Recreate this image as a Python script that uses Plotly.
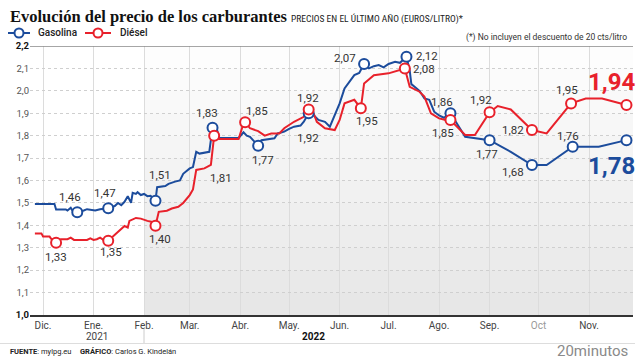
import plotly.graph_objects as go

# ---------------- data ----------------
gas_dates = ["2021-11-26", "2021-12-08", "2021-12-09", "2021-12-15", "2021-12-16", "2021-12-18",
             "2021-12-19", "2021-12-22", "2021-12-26", "2021-12-28", "2022-01-02", "2022-01-05",
             "2022-01-10", "2022-01-14", "2022-01-16", "2022-01-18", "2022-01-20", "2022-01-22",
             "2022-01-24", "2022-01-25", "2022-01-27", "2022-01-28", "2022-01-30", "2022-02-01",
             "2022-02-03", "2022-02-05", "2022-02-08", "2022-02-09", "2022-02-14", "2022-02-16",
             "2022-02-20", "2022-02-23", "2022-02-25", "2022-03-01", "2022-03-03", "2022-03-05",
             "2022-03-07", "2022-03-10", "2022-03-13", "2022-03-15", "2022-03-18", "2022-03-19",
             "2022-03-31", "2022-04-03", "2022-04-05", "2022-04-07", "2022-04-09", "2022-04-12",
             "2022-04-14", "2022-04-22", "2022-04-24", "2022-04-28", "2022-05-01", "2022-05-04",
             "2022-05-08", "2022-05-10", "2022-05-13", "2022-05-16", "2022-05-19", "2022-05-23",
             "2022-05-26", "2022-05-29", "2022-06-01", "2022-06-04", "2022-06-07", "2022-06-10",
             "2022-06-13", "2022-06-16", "2022-06-19", "2022-06-22", "2022-06-25", "2022-06-28",
             "2022-07-01", "2022-07-05", "2022-07-08", "2022-07-12", "2022-07-14", "2022-07-15",
             "2022-07-20", "2022-07-23", "2022-07-26", "2022-07-29", "2022-08-01", "2022-08-04",
             "2022-08-08", "2022-08-17", "2022-09-01", "2022-09-14", "2022-09-27", "2022-10-06",
             "2022-10-22", "2022-11-07", "2022-11-24"]
gas_vals = [1.495, 1.495, 1.471, 1.471, 1.466, 1.478,
            1.466, 1.458, 1.466, 1.472, 1.466, 1.472,
            1.476, 1.486, 1.500, 1.490, 1.505, 1.530,
            1.500, 1.545, 1.540, 1.548, 1.535, 1.540,
            1.530, 1.532, 1.510, 1.570, 1.575, 1.585,
            1.595, 1.600, 1.630, 1.654, 1.660, 1.728,
            1.720, 1.725, 1.728, 1.835, 1.820, 1.790,
            1.790, 1.815, 1.800, 1.795, 1.780, 1.755,
            1.780, 1.788, 1.810, 1.818, 1.830, 1.840,
            1.845, 1.862, 1.900, 1.892, 1.870, 1.862,
            1.840, 1.892, 1.944, 2.011, 2.040, 2.070,
            2.080, 2.120, 2.100, 2.110, 2.115, 2.105,
            2.120, 2.130, 2.125, 2.152, 2.090, 2.030,
            2.000, 1.966, 1.960, 1.907, 1.890, 1.880,
            1.900, 1.795, 1.780, 1.728, 1.669, 1.669,
            1.751, 1.751, 1.780]

die_dates = ["2021-11-26", "2021-11-30", "2021-12-01", "2021-12-05", "2021-12-06", "2021-12-09",
             "2021-12-12", "2021-12-16", "2021-12-18", "2021-12-20", "2021-12-28", "2021-12-30",
             "2022-01-01", "2022-01-03", "2022-01-05", "2022-01-07", "2022-01-10", "2022-01-14",
             "2022-01-17", "2022-01-20", "2022-01-22", "2022-01-23", "2022-01-27", "2022-01-30",
             "2022-02-03", "2022-02-06", "2022-02-08", "2022-02-10", "2022-02-15", "2022-02-18",
             "2022-02-22", "2022-02-25", "2022-03-01", "2022-03-03", "2022-03-05", "2022-03-10",
             "2022-03-14", "2022-03-16", "2022-03-19", "2022-03-31", "2022-04-03", "2022-04-04",
             "2022-04-07", "2022-04-12", "2022-04-16", "2022-04-20", "2022-04-25", "2022-04-28",
             "2022-05-04", "2022-05-10", "2022-05-13", "2022-05-16", "2022-05-18", "2022-05-23",
             "2022-05-29", "2022-06-01", "2022-06-04", "2022-06-10", "2022-06-14", "2022-06-16",
             "2022-06-22", "2022-07-01", "2022-07-11", "2022-07-14", "2022-07-20", "2022-07-23",
             "2022-07-27", "2022-08-01", "2022-08-05", "2022-08-08", "2022-08-17", "2022-08-23",
             "2022-09-01", "2022-09-06", "2022-09-14", "2022-09-27", "2022-10-06", "2022-10-21",
             "2022-10-30", "2022-11-09", "2022-11-24"]
die_vals = [1.364, 1.364, 1.350, 1.350, 1.340, 1.322,
            1.338, 1.338, 1.345, 1.335, 1.335, 1.342,
            1.335, 1.338, 1.345, 1.335, 1.331, 1.357,
            1.380, 1.397, 1.390, 1.420, 1.433, 1.430,
            1.420, 1.415, 1.398, 1.460, 1.465, 1.475,
            1.483, 1.500, 1.535, 1.560, 1.647, 1.654,
            1.670, 1.800, 1.785, 1.785, 1.855, 1.860,
            1.833, 1.820, 1.800, 1.810, 1.810, 1.833,
            1.862, 1.884, 1.917, 1.900, 1.862, 1.833,
            1.825, 1.870, 1.944, 1.960, 1.922, 2.033,
            2.070, 2.078, 2.100, 2.018, 1.996, 1.974,
            1.900, 1.877, 1.870, 1.870, 1.803, 1.803,
            1.904, 1.932, 1.917, 1.825, 1.810, 1.944,
            1.966, 1.966, 1.937]

gas_mark_dates = ["2021-12-22", "2022-01-10", "2022-02-08", "2022-03-15", "2022-04-12", "2022-05-13",
                  "2022-06-16", "2022-07-12", "2022-08-08", "2022-09-01", "2022-09-27", "2022-10-22",
                  "2022-11-24"]
gas_mark_vals = [1.458, 1.476, 1.510, 1.835, 1.755, 1.900, 2.120, 2.152, 1.900, 1.780, 1.669, 1.751, 1.780]
gas_mark_labels = ["1,46", "1,47", "1,51", "1,83", "1,77", "1,92", "2,07", "2,12", "1,86", "1,77",
                   "1,68", "1,76", "1,78"]

die_mark_dates = ["2021-12-09", "2022-01-10", "2022-02-08", "2022-03-16", "2022-04-04", "2022-05-13",
                  "2022-06-14", "2022-07-11", "2022-08-08", "2022-09-01", "2022-09-27", "2022-10-21",
                  "2022-11-24"]
die_mark_vals = [1.322, 1.331, 1.398, 1.800, 1.860, 1.917, 1.922, 2.100, 1.870, 1.904, 1.825, 1.944, 1.937]
die_mark_labels = ["1,33", "1,35", "1,40", "1,81", "1,85", "1,92", "1,95", "2,08", "1,85", "1,92",
                   "1,82", "1,95", "1,94"]

series_names = ["Gasolina", "Diésel"]
month_ticks = ["2021-12-01", "2022-01-01", "2022-02-01", "2022-03-01", "2022-04-01", "2022-05-01",
               "2022-06-01", "2022-07-01", "2022-08-01", "2022-09-01", "2022-10-01", "2022-11-01"]
month_labels = ["Dic.", "Ene.", "Feb.", "Mar.", "Abr.", "May.", "Jun.", "Jul.", "Ago.", "Sep.", "Oct", "Nov."]
y_ticks = [1.0, 1.1, 1.2, 1.3, 1.4, 1.5, 1.6, 1.7, 1.8, 1.9, 2.0, 2.1, 2.2]

# ---------------- styles ----------------
BLUE = "#1c4c9c"
RED = "#e8212b"
FONT = "Roboto, Arial, sans-serif"

# label offsets in pixels (dx, dy down-positive, anchor)
gas_offsets = [(-7, -15, "c"), (-3, -15, "c"), (5, -26, "c"), (-6, -15, "c"), (5, 14, "c"), (-1, 25, "c"),
               (-19, -6, "c"), (8, -1, "l"), (-8, -11, "c"), (-3, 14, "c"), (-19, 7, "c"), (-5, -11, "c"),
               (-15, 26, "big")]
die_offsets = [(0, 14, "c"), (3, 11, "c"), (5, 13, "c"), (7, 42, "c"), (12, -11, "c"), (-1, -11, "c"),
               (6, 13, "c"), (6, 1, "l"), (-7, 13, "c"), (-9, -12, "c"), (-19, 0, "c"), (-4, -13, "c"),
               (-15, -23, "big")]

W, H = 640, 360
L, R, T, B = 30, 633, 46, 315


def px(x):
    return (x - L) / (R - L)


def py(y):
    return (B - y) / (B - T)


fig = go.Figure()

# lines
fig.add_trace(go.Scatter(x=gas_dates, y=gas_vals, mode="lines", line=dict(color=BLUE, width=2),
                         name=series_names[0], showlegend=False, hoverinfo="skip"))
fig.add_trace(go.Scatter(x=die_dates, y=die_vals, mode="lines", line=dict(color=RED, width=2),
                         name=series_names[1], showlegend=False, hoverinfo="skip"))
# markers
fig.add_trace(go.Scatter(x=gas_mark_dates, y=gas_mark_vals, mode="markers",
                         marker=dict(symbol="circle", size=10, color="white", line=dict(color=BLUE, width=2)),
                         showlegend=False))
fig.add_trace(go.Scatter(x=die_mark_dates, y=die_mark_vals, mode="markers",
                         marker=dict(symbol="circle", size=10, color="white", line=dict(color=RED, width=2)),
                         showlegend=False))

annotations = []
for dates, vals, labels, offs, col in [(gas_mark_dates, gas_mark_vals, gas_mark_labels, gas_offsets, BLUE),
                                       (die_mark_dates, die_mark_vals, die_mark_labels, die_offsets, RED)]:
    for d, v, t, (dx, dy, kind) in zip(dates, vals, labels, offs):
        if kind == "big":
            annotations.append(dict(x=d, y=v, text=f"<b>{t}</b>", showarrow=False, xshift=dx, yshift=-dy,
                                    font=dict(family=FONT, size=24, color=col)))
        else:
            annotations.append(dict(x=d, y=v, text=t, showarrow=False, xshift=dx, yshift=-dy,
                                    xanchor="left" if kind == "l" else "center",
                                    font=dict(family=FONT, size=11.5, color="#333")))

# titles and texts
annotations += [
    dict(xref="paper", yref="paper", x=px(8), y=py(16), xanchor="left", yanchor="middle", showarrow=False,
         text="<b>Evolución del precio de los carburantes</b>",
         font=dict(family="Liberation Serif, serif", size=16.5, color="#111")),
    dict(xref="paper", yref="paper", x=px(289), y=py(19), xanchor="left", yanchor="middle", showarrow=False,
         text="PRECIOS EN EL ÚLTIMO AÑO (EUROS/LITRO)*",
         font=dict(family="Liberation Sans Narrow, Roboto Condensed, Roboto, sans-serif", size=9.5, color="#222")),
    dict(xref="paper", yref="paper", x=px(629), y=py(37), xanchor="right", yanchor="middle", showarrow=False,
         text="(*) No incluyen el descuento de 20 cts/litro",
         font=dict(family=FONT, size=8.5, color="#333")),
    dict(xref="paper", yref="paper", x=px(97), y=py(336), xanchor="center", yanchor="middle", showarrow=False,
         text="2021", font=dict(family=FONT, size=10, color="#444")),
    dict(xref="paper", yref="paper", x=px(313), y=py(336), xanchor="center", yanchor="middle", showarrow=False,
         text="<b>2022</b>", font=dict(family=FONT, size=10, color="#111")),
    dict(xref="paper", yref="paper", x=px(8), y=py(352), xanchor="left", yanchor="middle", showarrow=False,
         text="<b>FUENTE</b>: mylpg.eu", font=dict(family=FONT, size=7.5, color="#222")),
    dict(xref="paper", yref="paper", x=px(78), y=py(352), xanchor="left", yanchor="middle", showarrow=False,
         text="<b>GRÁFICO</b>: Carlos G. Kindelán", font=dict(family=FONT, size=7.5, color="#222")),
    dict(xref="paper", yref="paper", x=px(630), y=py(351), xanchor="right", yanchor="middle", showarrow=False,
         text="20minutos", font=dict(family=FONT, size=15, color="#8a8a8a")),
]

shapes = []
# legend (drawn manually: line + open circle + name)
legend_items = [(series_names[0], BLUE, 8, 30, 36), (series_names[1], RED, 85, 111, 118)]
LEG_Y = 33
for name, col, lx0, lx1, tx in legend_items:
    cx = (lx0 + lx1) / 2
    shapes.append(dict(type="line", xref="paper", yref="paper", x0=px(lx0), x1=px(lx1),
                       y0=py(LEG_Y), y1=py(LEG_Y), line=dict(color=col, width=2)))
    shapes.append(dict(type="circle", xref="paper", yref="paper", x0=px(cx - 4.5), x1=px(cx + 4.5),
                       y0=py(LEG_Y + 4.5), y1=py(LEG_Y - 4.5), fillcolor="white",
                       line=dict(color=col, width=2)))
    annotations.append(dict(xref="paper", yref="paper", x=px(tx), y=py(LEG_Y), xanchor="left",
                            yanchor="middle", showarrow=False, text=name,
                            font=dict(family=FONT, size=10, color="#222", weight=500)))

# gradient background from February onwards
n_bands = 12
for i in range(1, n_bands + 1):
    shapes.append(dict(type="rect", xref="x", yref="y", x0="2022-02-01", x1="2022-11-28",
                       y0=1.0, y1=1.0 + 1.2 * i / n_bands, fillcolor="rgba(0,0,0,0.006)",
                       line=dict(width=0), layer="below"))
shapes += [
    dict(type="line", xref="paper", yref="y", x0=0, x1=1, y0=2.2, y1=2.2,
         line=dict(color="#888", width=1.5)),
    dict(type="line", xref="paper", yref="paper", x0=px(0), x1=px(635), y0=py(343.5), y1=py(343.5),
         line=dict(color="#ddd", width=1)),
    dict(type="line", xref="paper", yref="paper", x0=px(144), x1=px(144), y0=py(329), y1=py(343),
         line=dict(color="#ccc", width=1)),
]

tick_text = []
for i, v in enumerate(y_ticks):
    s = f"{v:.1f}".replace(".", ",")
    if i == 0 or i == len(y_ticks) - 1:
        s = f"<b><span style='color:#111'>{s}</span></b>"
    tick_text.append(s)

month_text = [m if m != "Oct" else "<span style='color:#999'>Oct</span>" for m in month_labels]

fig.update_layout(
    width=W, height=H, autosize=False,
    margin=dict(l=L, r=W - R, t=T, b=H - B, pad=0),
    paper_bgcolor="white", plot_bgcolor="white",
    font=dict(family=FONT, size=10, color="#444"),
    showlegend=False,
    annotations=annotations,
    shapes=shapes,
    xaxis=dict(type="date", range=["2021-11-23", "2022-11-28"], tickvals=month_ticks, ticktext=month_text,
               showgrid=True, gridcolor="#dcdcdc", gridwidth=1, showline=True, linecolor="#333", linewidth=1.5,
               ticks="", tickfont=dict(family=FONT, size=10, color="#444"), zeroline=False, fixedrange=True),
    yaxis=dict(range=[1.0, 2.2], tickvals=y_ticks, ticktext=tick_text, showgrid=True, gridcolor="#cfcfcf",
               griddash="dot", gridwidth=1, zeroline=False, showline=False, ticks="",
               tickfont=dict(family=FONT, size=9.5, color="#555"), fixedrange=True),
    hovermode=False,
)

fig.write_html("out.html", config={"displayModeBar": False},
               post_script="document.body.style.margin='0';document.body.style.overflow='hidden';")
